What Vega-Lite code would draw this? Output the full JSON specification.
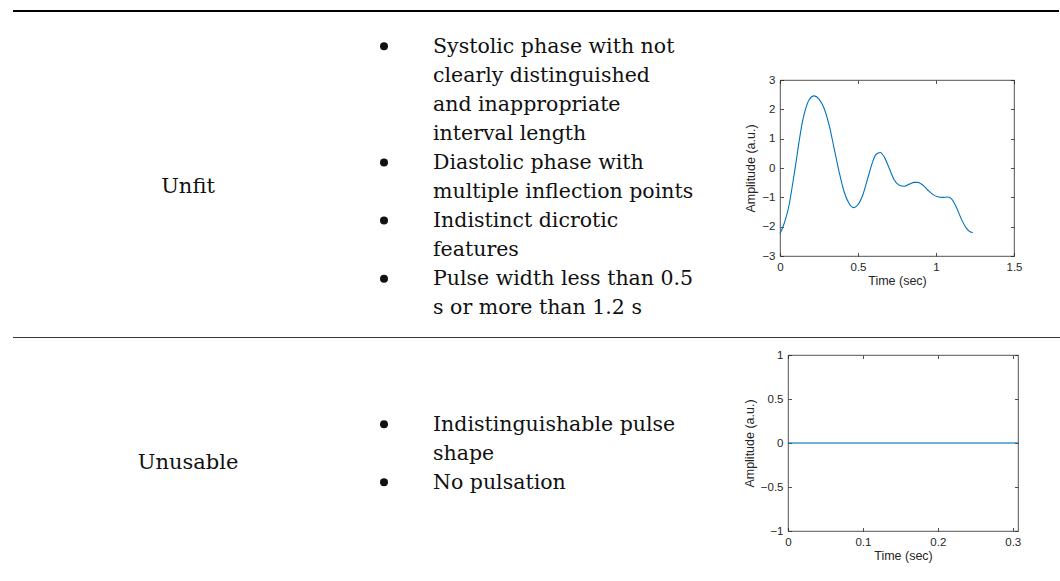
{
  "$schema": "https://vega.github.io/schema/vega-lite/v6.json",
  "background": "white",
  "padding": {"left": 12, "top": 10, "right": 0, "bottom": 0},
  "bounds": "full",
  "spacing": 0,
  "config": {
    "view": {"stroke": null},
    "axis": {
      "domain": false, "grid": false, "tickSize": -3.5, "tickColor": "#262626", "tickWidth": 0.8,
      "labelFont": "Liberation Sans", "labelFontSize": 11.5, "labelColor": "#262626",
      "labelFlush": false, "labelOverlap": false,
      "titleFont": "Liberation Sans", "titleFontSize": 12.5, "titleFontWeight": "normal", "titleColor": "#262626"
    },
    "axisX": {"labelPadding": 9, "titlePadding": 1},
    "axisY": {"labelPadding": 8.5, "titlePadding": 4}
  },
  "datasets": {
    "table": [
      {"row": "Unfit", "category": "Unfit", "item": 1, "line": 1, "text": "Systolic phase with not"},
      {"row": "Unfit", "category": "Unfit", "item": 1, "line": 2, "text": "clearly distinguished"},
      {"row": "Unfit", "category": "Unfit", "item": 1, "line": 3, "text": "and inappropriate"},
      {"row": "Unfit", "category": "Unfit", "item": 1, "line": 4, "text": "interval length"},
      {"row": "Unfit", "category": "Unfit", "item": 2, "line": 5, "text": "Diastolic phase with"},
      {"row": "Unfit", "category": "Unfit", "item": 2, "line": 6, "text": "multiple inflection points"},
      {"row": "Unfit", "category": "Unfit", "item": 3, "line": 7, "text": "Indistinct dicrotic"},
      {"row": "Unfit", "category": "Unfit", "item": 3, "line": 8, "text": "features"},
      {"row": "Unfit", "category": "Unfit", "item": 4, "line": 9, "text": "Pulse width less than 0.5"},
      {"row": "Unfit", "category": "Unfit", "item": 4, "line": 10, "text": "s or more than 1.2 s"},
      {"row": "Unusable", "category": "Unusable", "item": 1, "line": 1, "text": "Indistinguishable pulse"},
      {"row": "Unusable", "category": "Unusable", "item": 1, "line": 2, "text": "shape"},
      {"row": "Unusable", "category": "Unusable", "item": 2, "line": 3, "text": "No pulsation"}
    ],
    "unfit": [
      {"time": 0.0, "amplitude": -2.23},
      {"time": 0.015, "amplitude": -2.06},
      {"time": 0.037, "amplitude": -1.72},
      {"time": 0.058, "amplitude": -1.27},
      {"time": 0.08, "amplitude": -0.58},
      {"time": 0.1, "amplitude": 0.1},
      {"time": 0.122, "amplitude": 0.89},
      {"time": 0.144, "amplitude": 1.58},
      {"time": 0.165, "amplitude": 2.03},
      {"time": 0.186, "amplitude": 2.32},
      {"time": 0.218, "amplitude": 2.46},
      {"time": 0.25, "amplitude": 2.35},
      {"time": 0.283, "amplitude": 2.03},
      {"time": 0.315, "amplitude": 1.46},
      {"time": 0.347, "amplitude": 0.67},
      {"time": 0.379, "amplitude": -0.13},
      {"time": 0.411, "amplitude": -0.81},
      {"time": 0.443, "amplitude": -1.21},
      {"time": 0.471, "amplitude": -1.35},
      {"time": 0.497, "amplitude": -1.27},
      {"time": 0.53, "amplitude": -0.93},
      {"time": 0.562, "amplitude": -0.36},
      {"time": 0.594, "amplitude": 0.21},
      {"time": 0.615, "amplitude": 0.46},
      {"time": 0.643, "amplitude": 0.53},
      {"time": 0.668, "amplitude": 0.38},
      {"time": 0.7, "amplitude": -0.01},
      {"time": 0.73, "amplitude": -0.38},
      {"time": 0.757, "amplitude": -0.56},
      {"time": 0.78, "amplitude": -0.615},
      {"time": 0.797, "amplitude": -0.62},
      {"time": 0.829, "amplitude": -0.55},
      {"time": 0.861, "amplitude": -0.49},
      {"time": 0.883, "amplitude": -0.49},
      {"time": 0.915, "amplitude": -0.58},
      {"time": 0.947, "amplitude": -0.75},
      {"time": 0.979, "amplitude": -0.9},
      {"time": 1.011, "amplitude": -0.98},
      {"time": 1.044, "amplitude": -1.0},
      {"time": 1.076, "amplitude": -0.99},
      {"time": 1.101, "amplitude": -1.06},
      {"time": 1.129, "amplitude": -1.32},
      {"time": 1.161, "amplitude": -1.72},
      {"time": 1.193, "amplitude": -2.04},
      {"time": 1.221, "amplitude": -2.18},
      {"time": 1.236, "amplitude": -2.2}
    ],
    "unusable": [
      {"time": 0.0, "amplitude": 0},
      {"time": 0.05, "amplitude": 0},
      {"time": 0.1, "amplitude": 0},
      {"time": 0.15, "amplitude": 0},
      {"time": 0.2, "amplitude": 0},
      {"time": 0.25, "amplitude": 0},
      {"time": 0.307, "amplitude": 0}
    ]
  },
  "vconcat": [
    {
      "data": {"values": [{"edge": "top"}]},
      "width": 1046, "height": 2,
      "mark": {"type": "rule", "color": "#000000", "strokeWidth": 2},
      "encoding": {"y": {"field": "edge", "type": "nominal", "axis": null}}
    },
    {
      "bounds": "flush", "spacing": 0,
      "hconcat": [
        {
          "width": 350, "height": 325,
          "data": {"name": "table"},
          "transform": [{"filter": "datum.row === 'Unfit'"}],
          "mark": {"type": "text", "font": "DejaVu Serif", "fontSize": 21, "color": "#111111", "align": "center", "baseline": "alphabetic", "dy": 9.5},
          "encoding": {
            "y": {"aggregate": "mean", "field": "line", "type": "quantitative", "scale": {"domain": [-0.4, 10.78], "reverse": true, "nice": false, "zero": false}, "axis": null},
            "text": {"field": "category", "type": "nominal"}
          }
        },
        {
          "width": 417, "height": 325,
          "data": {"name": "table"},
          "transform": [{"filter": "datum.row === 'Unfit'"}],
          "layer": [
            {
              "mark": {"type": "point", "shape": "circle", "filled": true, "size": 64, "color": "#111111", "opacity": 1, "yOffset": -6.5},
              "encoding": {
                "x": {"datum": "bullet", "type": "nominal", "scale": {"type": "point", "domain": ["bullet", "item"], "range": [21, 70], "padding": 0}, "axis": null},
                "y": {"aggregate": "min", "field": "line", "type": "quantitative", "scale": {"domain": [-0.4, 10.78], "reverse": true, "nice": false, "zero": false}, "axis": null},
                "detail": {"field": "item", "type": "nominal"}
              }
            },
            {
              "mark": {"type": "text", "font": "DejaVu Serif", "fontSize": 20.5, "color": "#111111", "align": "left", "baseline": "alphabetic"},
              "encoding": {
                "x": {"datum": "item", "type": "nominal"},
                "y": {"field": "line", "type": "quantitative"},
                "text": {"field": "text", "type": "nominal"}
              }
            }
          ]
        },
        {
          "bounds": "flush", "spacing": 0,
          "vconcat": [
            {"data": {"values": []}, "mark": "point", "width": 234, "height": 68},
            {
              "width": 234, "height": 176,
              "view": {"stroke": "#262626", "strokeWidth": 0.8},
              "data": {"name": "unfit"},
              "layer": [
                {
                  "mark": {"type": "line", "color": "#0072BD", "strokeWidth": 1.1, "interpolate": "monotone"},
                  "encoding": {
                    "x": {"field": "time", "type": "quantitative", "scale": {"domain": [0, 1.5], "nice": false, "zero": false},
                          "axis": {"orient": "bottom", "values": [0, 0.5, 1, 1.5], "format": "~g", "title": "Time (sec)"}},
                    "y": {"field": "amplitude", "type": "quantitative", "scale": {"domain": [-3, 3], "nice": false, "zero": false},
                          "axis": {"orient": "left", "values": [-3, -2, -1, 0, 1, 2, 3], "format": "~g", "title": "Amplitude (a.u.)"}}
                  }
                },
                {
                  "mark": {"type": "line", "opacity": 0},
                  "encoding": {
                    "x": {"field": "time", "type": "quantitative", "axis": {"orient": "top", "values": [0, 0.5, 1, 1.5], "labels": false, "title": null}},
                    "y": {"field": "amplitude", "type": "quantitative", "axis": {"orient": "right", "values": [-3, -2, -1, 0, 1, 2, 3], "labels": false, "title": null}}
                  }
                }
              ],
              "resolve": {"axis": {"x": "independent", "y": "independent"}}
            }
          ]
        }
      ]
    },
    {
      "data": {"values": [{"edge": "middle"}]},
      "width": 1048, "height": 1,
      "mark": {"type": "rule", "color": "#3a3a3a", "strokeWidth": 1},
      "encoding": {"y": {"field": "edge", "type": "nominal", "axis": null}}
    },
    {
      "bounds": "flush", "spacing": 0,
      "hconcat": [
        {
          "width": 350, "height": 243,
          "data": {"name": "table"},
          "transform": [{"filter": "datum.row === 'Unusable'"}],
          "mark": {"type": "text", "font": "DejaVu Serif", "fontSize": 21, "color": "#111111", "align": "center", "baseline": "alphabetic", "dy": 9},
          "encoding": {
            "y": {"aggregate": "mean", "field": "line", "type": "quantitative", "scale": {"domain": [-2.19, 6.17], "reverse": true, "nice": false, "zero": false}, "axis": null},
            "text": {"field": "category", "type": "nominal"}
          }
        },
        {
          "width": 425, "height": 243,
          "data": {"name": "table"},
          "transform": [{"filter": "datum.row === 'Unusable'"}],
          "layer": [
            {
              "mark": {"type": "point", "shape": "circle", "filled": true, "size": 64, "color": "#111111", "opacity": 1, "yOffset": -6.5},
              "encoding": {
                "x": {"datum": "bullet", "type": "nominal", "scale": {"type": "point", "domain": ["bullet", "item"], "range": [21, 70], "padding": 0}, "axis": null},
                "y": {"aggregate": "min", "field": "line", "type": "quantitative", "scale": {"domain": [-2.19, 6.17], "reverse": true, "nice": false, "zero": false}, "axis": null},
                "detail": {"field": "item", "type": "nominal"}
              }
            },
            {
              "mark": {"type": "text", "font": "DejaVu Serif", "fontSize": 20.5, "color": "#111111", "align": "left", "baseline": "alphabetic"},
              "encoding": {
                "x": {"datum": "item", "type": "nominal"},
                "y": {"field": "line", "type": "quantitative"},
                "text": {"field": "text", "type": "nominal"}
              }
            }
          ]
        },
        {
          "bounds": "flush", "spacing": 0,
          "vconcat": [
            {"data": {"values": []}, "mark": "point", "width": 230, "height": 17},
            {
              "width": 230, "height": 176,
              "view": {"stroke": "#262626", "strokeWidth": 0.8},
              "data": {"name": "unusable"},
              "layer": [
                {
                  "mark": {"type": "line", "color": "#0072BD", "strokeWidth": 1.6, "opacity": 0.75},
                  "encoding": {
                    "x": {"field": "time", "type": "quantitative", "scale": {"domain": [0, 0.307], "nice": false, "zero": false},
                          "axis": {"orient": "bottom", "values": [0, 0.1, 0.2, 0.3], "format": "~g", "title": "Time (sec)"}},
                    "y": {"field": "amplitude", "type": "quantitative", "scale": {"domain": [-1, 1], "nice": false, "zero": false},
                          "axis": {"orient": "left", "values": [-1, -0.5, 0, 0.5, 1], "format": "~g", "title": "Amplitude (a.u.)"}}
                  }
                },
                {
                  "mark": {"type": "line", "opacity": 0},
                  "encoding": {
                    "x": {"field": "time", "type": "quantitative", "axis": {"orient": "top", "values": [0, 0.1, 0.2, 0.3], "labels": false, "title": null}},
                    "y": {"field": "amplitude", "type": "quantitative", "axis": {"orient": "right", "values": [-1, -0.5, 0, 0.5, 1], "labels": false, "title": null}}
                  }
                }
              ],
              "resolve": {"axis": {"x": "independent", "y": "independent"}}
            }
          ]
        }
      ]
    }
  ]
}
